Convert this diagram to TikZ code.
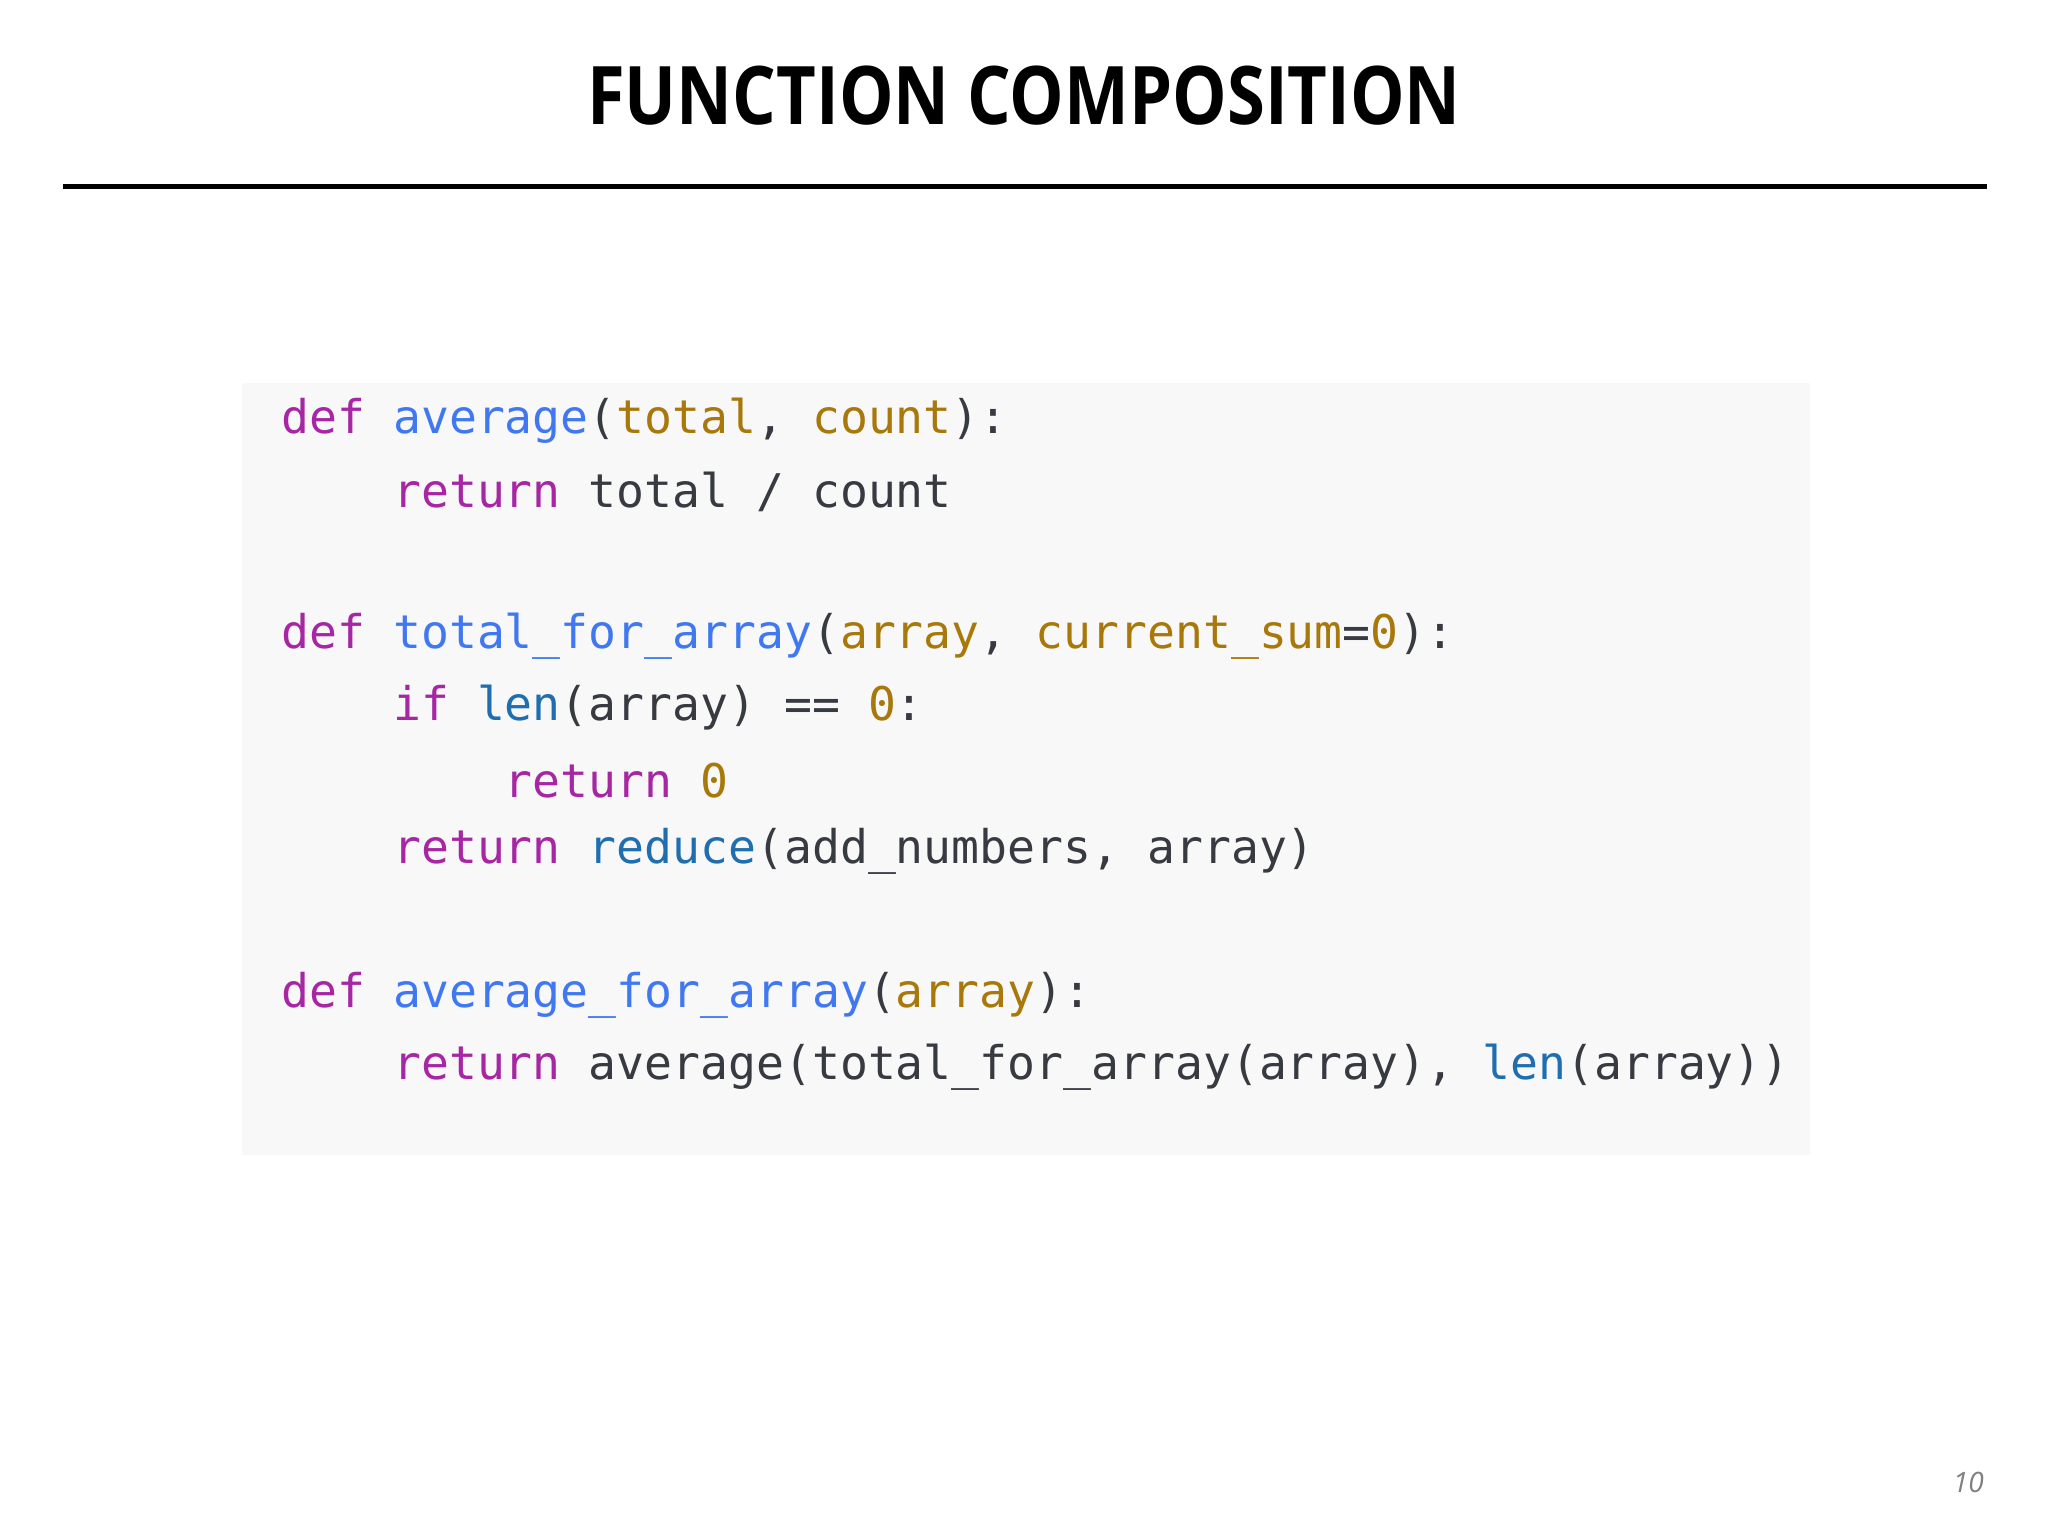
\documentclass[tikz,border=0pt]{standalone}
\usepackage{fontspec}
\setmonofont{DejaVu Sans Mono}
\newfontfamily\titlefont{Open Sans}
\newfontfamily\numfont{Open Sans}
\definecolor{kw}{HTML}{A626A4}
\definecolor{fn}{HTML}{4078F2}
\definecolor{pr}{HTML}{A8780A}
\definecolor{bi}{HTML}{1F6FB0}
\definecolor{tx}{HTML}{383A42}
\definecolor{codebg}{HTML}{F8F8F8}
\newcommand{\K}[1]{\textcolor{kw}{#1}}
\newcommand{\F}[1]{\textcolor{fn}{#1}}
\newcommand{\Pa}[1]{\textcolor{pr}{#1}}
\newcommand{\B}[1]{\textcolor{bi}{#1}}
\begin{document}
\begin{tikzpicture}[x=0.013061cm,y=-0.013061cm,
  codeline/.style={anchor=west,inner sep=0pt,font=\ttfamily\fontsize{13.2pt}{15pt}\selectfont,text=tx}]
\useasboundingbox (0,0) rectangle (1568,1176);
\node[font=\titlefont\bfseries\fontsize{23pt}{28pt}\selectfont,xscale=0.85] (title) at (784,73) {FUNCTION COMPOSITION};
\draw[line width=1.4pt] (48,143) -- (1521,143);
\fill[codebg] (185,293) rectangle (1386,884);
\node[codeline] (l1) at (215,322) {\K{def} \F{average}(\Pa{total}, \Pa{count}):};
\node[codeline] (l2) at (215,377) {\phantom{def }\K{return} total / count};
\node[codeline] (l3) at (215,487) {\K{def} \F{total\_for\_array}(\Pa{array}, \Pa{current\_sum}=\Pa{0}):};
\node[codeline] (l4) at (215,542) {\phantom{def }\K{if} \B{len}(array) == \Pa{0}:};
\node[codeline] (l5) at (215,597) {\phantom{def def }\K{return} \Pa{0}};
\node[codeline] (l6) at (215,652) {\phantom{def }\K{return} \B{reduce}(add\_numbers, array)};
\node[codeline] (l7) at (215,762) {\K{def} \F{average\_for\_array}(\Pa{array}):};
\node[codeline] (l8) at (215,817) {\phantom{def }\K{return} average(total\_for\_array(array), \B{len}(array))};
\node[font=\numfont\itshape\fontsize{8pt}{10pt}\selectfont,text=gray] (pg) at (1507,1135) {10};
\end{tikzpicture}
\end{document}
